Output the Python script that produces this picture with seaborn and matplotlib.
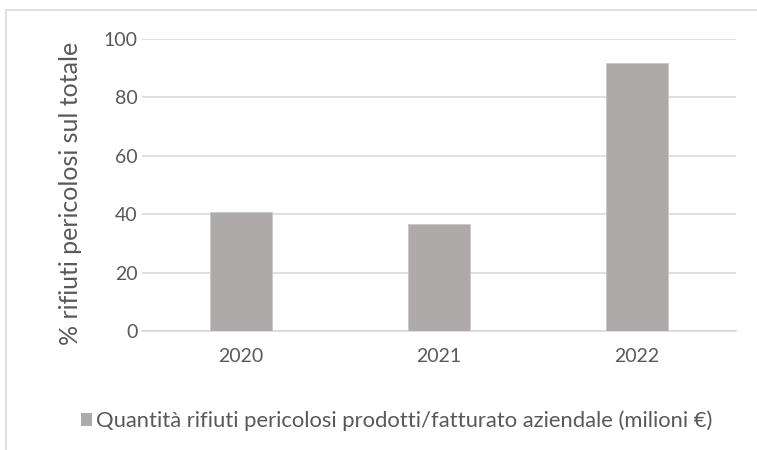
import matplotlib
matplotlib.use("Agg")
import matplotlib.pyplot as plt
import seaborn as sns
import pandas as pd
from matplotlib.patches import Rectangle, Patch

years = ["2020", "2021", "2022"]
values = [40.6, 36.6, 91.8]
series_name = "Quantità rifiuti pericolosi prodotti/fatturato aziendale (milioni €)"
ylabel = "% rifiuti pericolosi sul totale"
yticks = [0, 20, 40, 60, 80, 100]

sns.set_theme(style="white")
plt.rcParams["font.family"] = ["Lato", "DejaVu Sans"]

df = pd.DataFrame({"year": years, "value": values})

fig = plt.figure(figsize=(7.57, 4.5), dpi=100)
ax = fig.add_axes([142/757, 1-331/450, (736-142)/757, (331-39)/450])

bar_color = "#aeaaaa"
sns.barplot(data=df, x="year", y="value", ax=ax, color=bar_color, width=0.31,
            saturation=1, edgecolor="#c8c8c8", linewidth=0.6, zorder=3)

ax.set_ylim(0, 100)
ax.set_yticks(yticks)
ax.set_xlim(-0.5, 2.5)
ax.yaxis.grid(True, color="#d9d9d9", linewidth=1.2, zorder=0)
ax.set_axisbelow(True)
for s in ["top", "right", "left"]:
    ax.spines[s].set_visible(False)
ax.spines["bottom"].set_color("#d9d9d9")
ax.spines["bottom"].set_linewidth(1.2)
ax.tick_params(axis="both", length=0, labelsize=14, labelcolor="#595959")
ax.tick_params(axis="y", pad=3)
ax.tick_params(axis="x", pad=12)
ax.set_xlabel("")
ax.set_ylabel(ylabel, fontsize=18, color="#595959")
ax.yaxis.set_label_coords((82 - 142) / 594, (331 - 193) / 292)

handle = Patch(facecolor=bar_color, edgecolor="none")
fig.legend([handle], [series_name], loc="center", bbox_to_anchor=(397/757, 1-421/450),
           frameon=False, fontsize=15.8, labelcolor="#595959",
           handlelength=0.5, handleheight=0.5, handletextpad=0.2, borderaxespad=0)

border = Rectangle((6/757, -0.1), 1.2, 1 - 10/450 + 0.1, transform=fig.transFigure,
                   fill=False, edgecolor="#d9d9d9", linewidth=1.2)
fig.patches.append(border)

fig.savefig("out.png", dpi=100)
